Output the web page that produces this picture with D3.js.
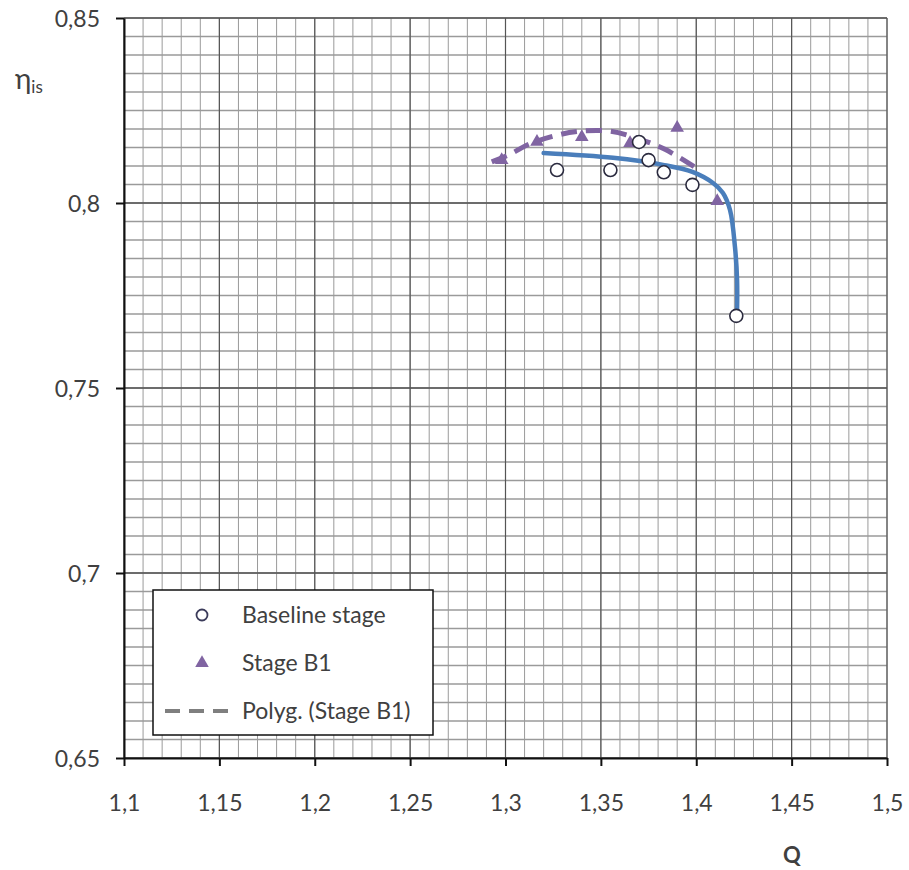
<!DOCTYPE html>
<html>
<head>
<meta charset="utf-8">
<script src="https://cdn.jsdelivr.net/npm/d3@7"></script>
<style>
  html, body { margin: 0; padding: 0; background: #fff; }
  svg { display: block; }
  text { font-family: Lato, "Open Sans", "DejaVu Sans", sans-serif; fill: #404040; }
</style>
</head>
<body>
<svg id="chart" width="909" height="870"></svg>
<script>
// ---------------- data ----------------
const xTickValues = [1.1, 1.15, 1.2, 1.25, 1.3, 1.35, 1.4, 1.45, 1.5];
const xTickLabels = ["1,1", "1,15", "1,2", "1,25", "1,3", "1,35", "1,4", "1,45", "1,5"];
const yTickValues = [0.65, 0.7, 0.75, 0.8, 0.85];
const yTickLabels = ["0,65", "0,7", "0,75", "0,8", "0,85"];

// Baseline stage (open circles)
const baselineQ   = [1.327, 1.355, 1.370, 1.375, 1.383, 1.398, 1.421];
const baselineEta = [0.8089, 0.8089, 0.8165, 0.8116, 0.8083, 0.8049, 0.7695];

// Baseline stage smooth curve (blue)
const baselineCurveQ   = [1.320, 1.3564, 1.3826, 1.398, 1.4088, 1.4140, 1.4177, 1.4203, 1.4214, 1.4214];
const baselineCurveEta = [0.8135, 0.8122, 0.8103, 0.8084, 0.8054, 0.8027, 0.7981, 0.7881, 0.7792, 0.7711];

// Stage B1 (triangles)
const stageB1Q   = [1.298, 1.3165, 1.340, 1.3653, 1.390, 1.411];
const stageB1Eta = [0.8116, 0.8165, 0.8178, 0.8162, 0.8203, 0.8005];

// Polyg. (Stage B1) trendline (dashed)
const polyQ   = [1.2928, 1.3024, 1.3128, 1.3260, 1.3391, 1.3548, 1.3705, 1.3836, 1.4010];
const polyEta = [0.8111, 0.8132, 0.8160, 0.8182, 0.8194, 0.8194, 0.8172, 0.8145, 0.8091];

const legendItems = ["Baseline stage", "Stage B1", "Polyg. (Stage B1)"];

// ---------------- drawing ----------------
const svg = d3.select("#chart");
const pLeft = 124, pRight = 887, pTop = 18, pBottom = 758;
const x = d3.scaleLinear().domain([1.1, 1.5]).range([pLeft, pRight]);
const y = d3.scaleLinear().domain([0.65, 0.85]).range([pBottom, pTop]);

svg.append("rect").attr("width", 909).attr("height", 870).attr("fill", "#fff");

const grid = svg.append("g");
// minor verticals (0.01) and horizontals (0.005)
grid.selectAll("line.vx").data(x.ticks(40)).join("line")
  .attr("x1", d => x(d)).attr("x2", d => x(d)).attr("y1", pTop).attr("y2", pBottom)
  .attr("stroke", "#9a9a9a").attr("stroke-width", 1);
grid.selectAll("line.hy").data(y.ticks(40)).join("line")
  .attr("x1", pLeft).attr("x2", pRight).attr("y1", d => y(d)).attr("y2", d => y(d))
  .attr("stroke", "#9a9a9a").attr("stroke-width", 1.3);
// major
grid.selectAll("line.mx").data(xTickValues).join("line")
  .attr("x1", d => x(d)).attr("x2", d => x(d)).attr("y1", pTop).attr("y2", pBottom)
  .attr("stroke", "#555").attr("stroke-width", 1.2);
grid.selectAll("line.my").data(yTickValues).join("line")
  .attr("x1", pLeft).attr("x2", pRight).attr("y1", d => y(d)).attr("y2", d => y(d))
  .attr("stroke", "#555").attr("stroke-width", 1.4);

// axes
const xAxis = d3.axisBottom(x).tickValues(xTickValues)
  .tickFormat((d, i) => xTickLabels[i]).tickSize(8).tickSizeOuter(0);
const gx = svg.append("g").attr("transform", `translate(0,${pBottom})`).call(xAxis);
gx.select(".domain").attr("stroke", "#111").attr("stroke-width", 2);
gx.selectAll(".tick line").attr("stroke", "#111").attr("stroke-width", 2);
gx.selectAll(".tick text").attr("font-size", 23).attr("y", 45).attr("dy", "0.35em")
  .attr("font-family", "Lato, 'Open Sans', sans-serif").attr("fill", "#404040");

const yAxis = d3.axisLeft(y).tickValues(yTickValues)
  .tickFormat((d, i) => yTickLabels[i]).tickSize(8).tickSizeOuter(0);
const gy = svg.append("g").attr("transform", `translate(${pLeft},0)`).call(yAxis);
gy.select(".domain").attr("stroke", "#111").attr("stroke-width", 2);
gy.selectAll(".tick line").attr("stroke", "#111").attr("stroke-width", 2);
gy.selectAll(".tick text").attr("font-size", 23).attr("x", -24).attr("dy", "0.35em")
  .attr("font-family", "Lato, 'Open Sans', sans-serif").attr("fill", "#404040");

// axis titles
const yl = svg.append("text").attr("x", 15).attr("y", 89).attr("font-size", 28);
yl.append("tspan").text("η");
yl.append("tspan").attr("font-size", 17).attr("dy", 4).text("is");
svg.append("text").attr("x", 792).attr("y", 855).attr("dy", "0.35em")
  .attr("text-anchor", "middle").attr("font-size", 22).attr("font-weight", "bold").text("Q");

// series
const purple = "#8064a2", blue = "#4a7ebb";
const line = d3.line().x(d => x(d[0])).y(d => y(d[1])).curve(d3.curveCatmullRom.alpha(0.5));

svg.append("path").datum(d3.zip(polyQ, polyEta)).attr("d", line)
  .attr("fill", "none").attr("stroke", purple).attr("stroke-width", 5)
  .attr("stroke-dasharray", "16,9");

svg.append("path").datum(d3.zip(baselineCurveQ, baselineCurveEta)).attr("d", line)
  .attr("fill", "none").attr("stroke", blue).attr("stroke-width", 4.5)
  .attr("stroke-linecap", "round");

const tri = d3.symbol().type(d3.symbolTriangle).size(80);
svg.append("g").selectAll("path").data(d3.zip(stageB1Q, stageB1Eta)).join("path")
  .attr("d", tri).attr("transform", d => `translate(${x(d[0])},${y(d[1])})`)
  .attr("fill", purple);

svg.append("g").selectAll("circle").data(d3.zip(baselineQ, baselineEta)).join("circle")
  .attr("cx", d => x(d[0])).attr("cy", d => y(d[1])).attr("r", 6.5)
  .attr("fill", "#fff").attr("stroke", "#2b2b3f").attr("stroke-width", 1.6);

// legend
const lg = svg.append("g").attr("transform", "translate(153,590)");
lg.append("rect").attr("width", 280).attr("height", 145)
  .attr("fill", "#fff").attr("stroke", "#111").attr("stroke-width", 1.5);
const rows = [25, 73, 121];
lg.append("circle").attr("cx", 49).attr("cy", rows[0]).attr("r", 5.5)
  .attr("fill", "#fff").attr("stroke", "#3b3b5a").attr("stroke-width", 1.8);
lg.append("path").attr("d", tri).attr("transform", `translate(49,${rows[1]})`).attr("fill", purple);
lg.append("line").attr("x1", 12).attr("x2", 84).attr("y1", rows[2]).attr("y2", rows[2])
  .attr("stroke", "#7f7f7f").attr("stroke-width", 4).attr("stroke-dasharray", "15,9");
lg.selectAll("text.item").data(legendItems).join("text")
  .attr("x", 89).attr("y", (d, i) => rows[i]).attr("dy", "0.35em")
  .attr("font-size", 23).text(d => d);
</script>
</body>
</html>
